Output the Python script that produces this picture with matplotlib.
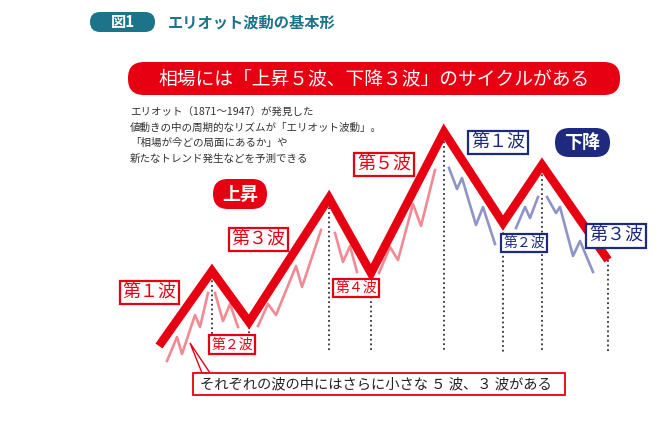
import matplotlib
matplotlib.use("Agg")
import matplotlib.pyplot as plt
from matplotlib.patches import FancyBboxPatch, Rectangle, Polygon

plt.rcParams['font.family'] = ['Noto Sans CJK JP', 'DejaVu Sans']

# main Elliott wave: 5 up legs then 3 down legs (x, price)
main_x = [159, 212, 249, 329, 371, 444, 503, 542, 608]
main_y = [100, 175, 124, 248, 173, 314, 223, 281, 186]

# smaller waves inside each leg
up1_x = [167, 177, 182, 195, 200, 208]
up1_y = [85, 109, 92, 131, 119, 153]
up2_x = [215, 223, 230, 238]
up2_y = [153, 125, 142, 119]
up3_x = [258, 268, 276, 296, 302, 321]
up3_y = [120, 142, 131, 180, 159, 216]
up4_x = [335, 343, 350, 357]
up4_y = [213, 184, 200, 174]
up5_x = [379, 390, 398, 413, 421, 435]
up5_y = [173, 199, 186, 242, 220, 276]
down1_x = [449, 457, 462, 476, 483, 495]
down1_y = [278, 257, 268, 221, 239, 202]
down2_x = [516, 525, 530, 538]
down2_y = [218, 239, 228, 249]
down3_x = [547, 556, 560, 573, 580, 593]
down3_y = [249, 233, 239, 190, 205, 174]

base_y = 94

up_labels = ["第１波", "第２波", "第３波", "第４波", "第５波"]
down_labels = ["第１波", "第２波", "第３波"]

title = "エリオット波動の基本形"
banner = "相場には「上昇５波、下降３波」のサイクルがある"
note = ["エリオット（1871～1947）が発見した",
        "値動きの中の周期的なリズムが「エリオット波動」。",
        "「相場が今どの局面にあるか」や",
        "新たなトレンド発生などを予測できる"]
bottom_note = "それぞれの波の中にはさらに小さな ５ 波、３ 波がある"

RED = "#e60012"
NAVY = "#1d2a7e"
TEAL = "#1b7489"
PINK = "#f28a93"
LAV = "#8e94c8"

fig = plt.figure(figsize=(6.7, 4.46), dpi=100)
ax = fig.add_axes([0, 0, 1, 1])
ax.set_xlim(0, 670)
ax.set_ylim(0, 446)
ax.axis("off")

# dotted guides from each turning point
for x, y in zip(main_x[1:], main_y[1:]):
    ax.plot([x, x], [y, base_y], color="#333333", lw=1.3,
            linestyle=(0, (1, 1.6)), zorder=1)

for xs, ys in [(up1_x, up1_y), (up2_x, up2_y), (up3_x, up3_y),
               (up4_x, up4_y), (up5_x, up5_y)]:
    ax.plot(xs, ys, color=PINK, lw=1.9, zorder=2)
for xs, ys in [(down1_x, down1_y), (down2_x, down2_y), (down3_x, down3_y)]:
    ax.plot(xs, ys, color=LAV, lw=1.9, zorder=2)

ax.plot(main_x, main_y, color=RED, lw=6.2, solid_joinstyle="miter",
        solid_capstyle="butt", zorder=3)

# header
ax.add_patch(FancyBboxPatch((90, 414), 65, 20, boxstyle="round,pad=0,rounding_size=10",
                            fc=TEAL, ec="none"))
ax.text(123, 424, "図1", color="white", fontsize=11, fontweight="bold",
        ha="center", va="center")
ax.text(168, 424, title, color=TEAL, fontsize=11, fontweight="bold",
        ha="left", va="center")

# banner
ax.add_patch(FancyBboxPatch((128, 351), 492, 33, boxstyle="round,pad=0,rounding_size=16",
                            fc=RED, ec="none"))
ax.text(374, 367, banner, color="white", fontsize=13.5, ha="center", va="center")

# explanatory note
for i, line in enumerate(note):
    ax.text(130, 334 - i * 15.5, line, color="#333333", fontsize=7.6,
            ha="left", va="center")

# up / down pills
ax.add_patch(FancyBboxPatch((213, 237), 54, 30, boxstyle="round,pad=0,rounding_size=15",
                            fc=RED, ec="none", zorder=4))
ax.text(240, 252, "上昇", color="white", fontsize=13, fontweight="bold",
        ha="center", va="center", zorder=5)
ax.add_patch(FancyBboxPatch((555, 289), 55, 29, boxstyle="round,pad=0,rounding_size=14.5",
                            fc=NAVY, ec="none", zorder=4))
ax.text(582.5, 303.5, "下降", color="white", fontsize=13, fontweight="bold",
        ha="center", va="center", zorder=5)

# wave labels
up_pos = [(149.5, 153.5, 13), (232, 101.5, 10), (258.5, 206.5, 13),
          (356, 158, 10), (384, 281.5, 13)]
for lab, (x, y, fs) in zip(up_labels, up_pos):
    ax.text(x, y, lab, color=RED, fontsize=fs, ha="center", va="center", zorder=6,
            bbox=dict(boxstyle="square,pad=0.15", fc="white", ec=RED, lw=1.6))
down_pos = [(498, 303.5, 13), (524, 203, 10), (616, 210, 13)]
for lab, (x, y, fs) in zip(down_labels, down_pos):
    ax.text(x, y, lab, color=NAVY, fontsize=fs, ha="center", va="center", zorder=6,
            bbox=dict(boxstyle="square,pad=0.15", fc="white", ec=NAVY, lw=1.6))

# bottom callout
ax.add_patch(Polygon([(190, 103), (202, 73), (210, 73)], closed=True,
                     fc="white", ec=RED, lw=1.0, zorder=6))
ax.add_patch(Rectangle((193, 51), 372, 22, fc="white", ec=RED, lw=1.3, zorder=7))
ax.text(200, 62, bottom_note, color="#222222", fontsize=10.3,
        ha="left", va="center", zorder=8)

fig.savefig("out.png", dpi=100)
